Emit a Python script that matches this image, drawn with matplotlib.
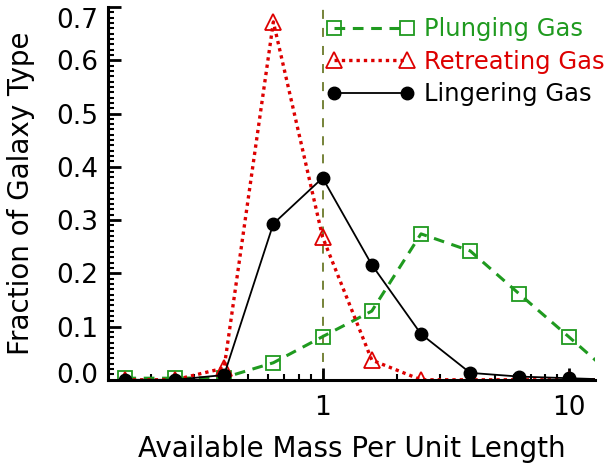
import numpy as np
import matplotlib
matplotlib.use("Agg")
import matplotlib.pyplot as plt
import matplotlib.transforms as mtransforms
from matplotlib.ticker import LogLocator, FixedLocator, MultipleLocator, NullFormatter

# bin centres (available mass per unit length)
mass = [0.158, 0.251, 0.398, 0.631, 1.0, 1.585, 2.512, 3.981, 6.310, 10.0, 15.85]

plunging = [0.003, 0.003, 0.004, 0.032, 0.081, 0.129, 0.274, 0.242, 0.161, 0.081, 0.0]
retreating = [0.0, 0.0, 0.022, 0.672, 0.268, 0.037, 0.0, 0.0, 0.0, 0.0, 0.0]
lingering = [0.0, 0.0, 0.009, 0.293, 0.379, 0.216, 0.086, 0.013, 0.006, 0.003, 0.0]

labels = ["Plunging Gas", "Retreating Gas", "Lingering Gas"]
colors = ["#1f9a1f", "#dd0000", "black"]
yticks = [0.0, 0.1, 0.2, 0.3, 0.4, 0.5, 0.6, 0.7]

plt.rcParams["font.family"] = ["DejaVu Sans"]

fig = plt.figure(figsize=(6.09, 4.66), dpi=100)
ax = fig.add_axes([0.177, 0.185, 0.8, 0.8])

ax.plot(mass, plunging, color=colors[0], ls=(0, (3.5, 2.5)), lw=2.2, marker="s",
        ms=10, mfc="none", mec=colors[0], mew=1.3, label=labels[0])
ax.plot(mass, retreating, color=colors[1], ls=(0, (1, 1.2)), lw=2.4, marker="^",
        ms=11, mfc="none", mec=colors[1], mew=1.3, label=labels[1])
ax.plot(mass, lingering, color=colors[2], ls="-", lw=1.3, marker="o",
        ms=9, mfc="black", mec="black", label=labels[2])

ax.axvline(1.0, color="#6b7a2a", ls=(0, (5, 5)), lw=1.3, zorder=0)

ax.set_xscale("log")
ax.set_xlim(0.134, 12.8)
ax.set_ylim(0.0, 0.7)

ax.xaxis.set_major_locator(FixedLocator([1, 10]))
ax.set_xticklabels(["1", "10"])
ax.xaxis.set_minor_locator(LogLocator(base=10, subs=np.arange(2, 10)))
ax.xaxis.set_minor_formatter(NullFormatter())
ax.yaxis.set_minor_locator(MultipleLocator(0.01))
ax.set_yticks(yticks)
ax.set_yticklabels([f"{v:.1f}" for v in yticks])

for side in ["top", "right"]:
    ax.spines[side].set_visible(False)
for side in ["left", "bottom"]:
    ax.spines[side].set_linewidth(2.2)

ax.tick_params(axis="both", which="major", direction="in", length=9, width=2,
               labelsize=19, pad=7)
ax.tick_params(axis="both", which="minor", direction="in", length=4.5, width=1.5)
ax.tick_params(axis="x", which="major", pad=11)

# nudge the end labels inward like the original
ticks = ax.yaxis.get_major_ticks()
for tick, dy in [(ticks[0], 7), (ticks[-1], -11)]:
    lab = tick.label1
    lab.set_transform(lab.get_transform() + mtransforms.ScaledTranslation(0, dy / 100, fig.dpi_scale_trans))

ax.set_xlabel("Available Mass Per Unit Length", fontsize=20, labelpad=10)
ax.set_ylabel("Fraction of Galaxy Type", fontsize=20, labelpad=15)

leg = ax.legend(loc="upper right", bbox_to_anchor=(1.008, 0.984), bbox_transform=fig.transFigure,
                frameon=False, numpoints=2, handlelength=3.6, handletextpad=0.4,
                labelspacing=0.35, fontsize=17.5, borderaxespad=0)
for txt, c in zip(leg.get_texts(), colors):
    txt.set_color(c)

fig.savefig("out.png", dpi=100)
